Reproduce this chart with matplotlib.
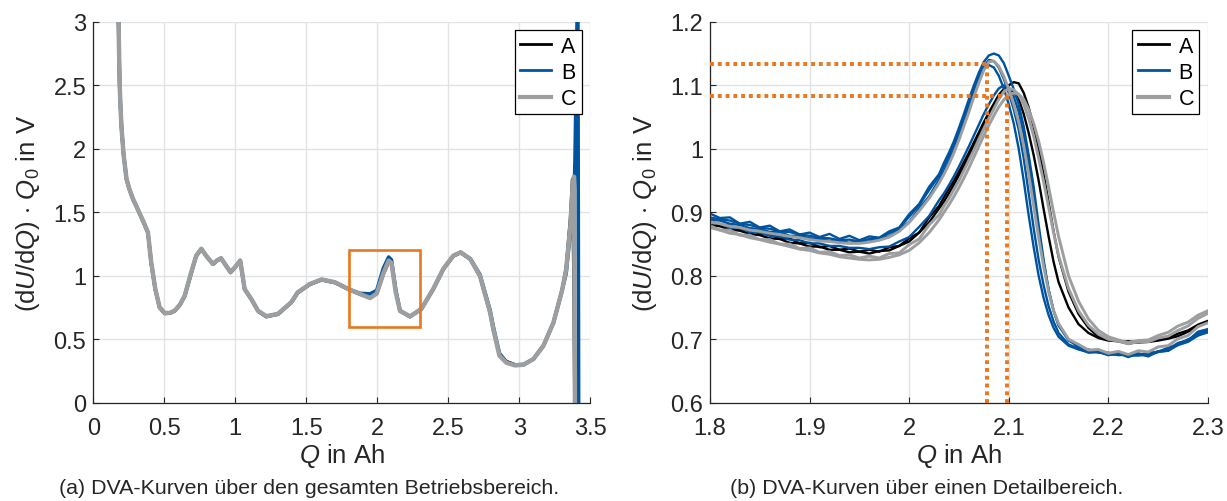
import matplotlib
matplotlib.use('Agg')
import matplotlib.pyplot as plt
from matplotlib.lines import Line2D
from matplotlib.patches import Rectangle

plt.rcParams['font.family'] = ['Liberation Sans', 'DejaVu Sans']
plt.rcParams['mathtext.fontset'] = 'custom'
plt.rcParams['mathtext.rm'] = 'Liberation Sans'
plt.rcParams['mathtext.it'] = 'Liberation Sans:italic'
plt.rcParams['mathtext.bf'] = 'Liberation Sans:bold'

# Farben der drei Zellen und der Markierung
COL_A = '#000000'
COL_B = '#00549F'
COL_C = '#9C9E9F'
ORANGE = '#E8771F'
TXT = '#262626'

LABELS = ['A', 'B', 'C']

# --- DVA über den gesamten Betriebsbereich ---
Q_FULL = [0.17, 0.178, 0.182, 0.186, 0.193, 0.20, 0.214, 0.234, 0.255, 0.28,
          0.315, 0.35, 0.385, 0.408, 0.437, 0.467, 0.503, 0.54, 0.573, 0.61,
          0.644, 0.69, 0.725, 0.761, 0.80, 0.843, 0.87, 0.90, 0.935, 0.967,
          1.00, 1.035, 1.066, 1.113, 1.16, 1.218, 1.30, 1.394, 1.44, 1.525,
          1.608, 1.702, 1.796, 1.878, 1.949, 1.996, 2.043, 2.08, 2.10, 2.13,
          2.16, 2.23, 2.31, 2.394, 2.465, 2.535, 2.587, 2.655, 2.723, 2.794,
          2.817, 2.86, 2.91, 2.97, 3.03, 3.10, 3.17, 3.24, 3.30, 3.33,
          3.36, 3.375, 3.385, 3.392, 3.412, 3.418]

DVA_A = [3.2, 3.0, 2.75, 2.5, 2.3, 2.15, 1.95, 1.76, 1.68, 1.60,
         1.52, 1.43, 1.34, 1.10, 0.89, 0.75, 0.703, 0.705, 0.722, 0.77,
         0.84, 1.02, 1.155, 1.21, 1.15, 1.09, 1.118, 1.137, 1.078, 1.025,
         1.068, 1.12, 0.893, 0.815, 0.722, 0.678, 0.697, 0.788, 0.866, 0.932,
         0.968, 0.946, 0.894, 0.855, 0.828, 0.862, 1.015, 1.11, 1.10, 0.88,
         0.727, 0.678, 0.737, 0.893, 1.05, 1.155, 1.182, 1.13, 0.995, 0.71,
         0.575, 0.38, 0.325, 0.30, 0.302, 0.345, 0.45, 0.63, 0.88, 1.06,
         1.45, 1.76, 0.9, -0.2, -0.2, -0.2]

DVA_B = [3.2, 3.0, 2.75, 2.5, 2.3, 2.15, 1.95, 1.764, 1.68, 1.605,
         1.52, 1.434, 1.342, 1.106, 0.896, 0.752, 0.707, 0.708, 0.725, 0.772,
         0.843, 1.028, 1.158, 1.213, 1.15, 1.094, 1.12, 1.139, 1.08, 1.03,
         1.07, 1.12, 0.896, 0.817, 0.725, 0.681, 0.70, 0.791, 0.87, 0.935,
         0.971, 0.949, 0.896, 0.862, 0.858, 0.885, 1.06, 1.148, 1.125, 0.89,
         0.722, 0.68, 0.739, 0.896, 1.055, 1.158, 1.185, 1.135, 1.01, 0.73,
         0.60, 0.39, 0.32, 0.295, 0.30, 0.345, 0.45, 0.63, 0.88, 1.02,
         1.35, 1.50, 1.62, 1.9, 3.4, -0.2]

DVA_C = [3.2, 3.0, 2.75, 2.5, 2.3, 2.15, 1.95, 1.764, 1.68, 1.605,
         1.52, 1.434, 1.342, 1.106, 0.896, 0.752, 0.707, 0.708, 0.725, 0.772,
         0.843, 1.028, 1.158, 1.213, 1.15, 1.094, 1.12, 1.139, 1.08, 1.03,
         1.07, 1.12, 0.896, 0.817, 0.725, 0.681, 0.70, 0.791, 0.87, 0.935,
         0.971, 0.949, 0.896, 0.857, 0.825, 0.860, 1.02, 1.12, 1.10, 0.87,
         0.725, 0.68, 0.739, 0.896, 1.055, 1.158, 1.185, 1.132, 1.00, 0.713,
         0.58, 0.371, 0.315, 0.295, 0.30, 0.345, 0.45, 0.63, 0.88, 1.05,
         1.40, 1.70, 1.78, -0.1, -0.2, -0.2]

# --- Detailbereich um den Peak bei 2.1 Ah ---
Q_DETAIL = [1.80, 1.81, 1.82, 1.83, 1.84, 1.85, 1.86, 1.87, 1.88, 1.89,
            1.90, 1.91, 1.92, 1.93, 1.94, 1.95, 1.96, 1.97, 1.98, 1.99,
            2.00, 2.01, 2.02, 2.03,
            2.035, 2.04, 2.045, 2.05, 2.055, 2.06, 2.065, 2.07, 2.075, 2.08,
            2.085, 2.09, 2.095, 2.10, 2.105, 2.11, 2.115, 2.12, 2.125, 2.13,
            2.135, 2.14, 2.145, 2.15,
            2.16, 2.17, 2.18, 2.19, 2.20, 2.21, 2.22, 2.23, 2.24, 2.25,
            2.26, 2.27, 2.28, 2.29, 2.30]

DETAIL_A = [
    [.886, .880, .880, .872, .873, .866, .866, .858, .859, .851, .852, .845,
     .847, .841, .843, .838, .841, .838, .845, .847, .859, .868, .892, .910,
     .924, .937, .950, .964, .979, .994, 1.010, 1.026, 1.042, 1.057, 1.071, 1.085,
     1.094, 1.100, 1.105, 1.103, 1.088, 1.065, 1.035, 1.000, 0.960, 0.915, 0.870, 0.830,
     .775, .740, .718, .704, .701, .697, .697, .695, .696, .698, .701, .705, .712, .720, .728],
    [.880, .878, .873, .871, .866, .864, .859, .858, .852, .851, .846, .846,
     .841, .841, .837, .838, .835, .839, .840, .847, .854, .868, .884, .906,
     .917, .930, .944, .958, .973, .989, 1.005, 1.021, 1.037, 1.052, 1.066, 1.080,
     1.092, 1.095, 1.090, 1.078, 1.055, 1.025, 0.990, 0.950, 0.905, 0.862, 0.822, 0.790,
     .750, .724, .710, .702, .698, .697, .693, .696, .696, .700, .702, .709, .714, .723, .729],
]

DETAIL_B = [
    [.898, .891, .892, .882, .885, .876, .879, .870, .873, .865, .868, .861,
     .866, .858, .863, .856, .862, .860, .870, .876, .897, .913, .940, .960,
     .978, .994, 1.012, 1.033, 1.055, 1.078, 1.100, 1.120, 1.137, 1.147, 1.150, 1.147,
     1.135, 1.115, 1.094, 1.070, 1.035, 0.990, 0.940, 0.880, 0.825, 0.778, 0.745, 0.722,
     .698, .690, .681, .682, .676, .678, .672, .678, .673, .681, .682, .694, .698, .712, .716],
    [.892, .889, .887, .882, .880, .876, .874, .870, .869, .865, .863, .860,
     .859, .856, .857, .854, .858, .859, .867, .875, .893, .911, .935, .957,
     .972, .988, 1.006, 1.027, 1.048, 1.070, 1.093, 1.113, 1.130, 1.140, 1.138, 1.128,
     1.110, 1.088, 1.062, 1.030, 0.985, 0.930, 0.875, 0.825, 0.785, 0.752, 0.728, 0.710,
     .692, .685, .679, .680, .675, .678, .674, .675, .676, .681, .685, .694, .699, .709, .714],
    [.888, .887, .882, .880, .875, .874, .869, .869, .863, .863, .859, .858,
     .855, .855, .852, .854, .854, .859, .862, .873, .885, .906, .925, .951,
     .965, .981, .999, 1.020, 1.042, 1.064, 1.088, 1.108, 1.126, 1.132, 1.128, 1.115,
     1.095, 1.070, 1.040, 1.000, 0.950, 0.895, 0.845, 0.800, 0.765, 0.738, 0.718, 0.704,
     .690, .684, .680, .680, .676, .676, .675, .675, .675, .680, .682, .691, .696, .706, .711],
    [.885, .882, .876, .875, .869, .868, .863, .862, .857, .856, .851, .851,
     .847, .847, .844, .844, .842, .845, .846, .854, .861, .877, .894, .919,
     .930, .943, .957, .972, .988, 1.004, 1.021, 1.038, 1.055, 1.070, 1.084, 1.095,
     1.100, 1.096, 1.082, 1.058, 1.022, 0.975, 0.922, 0.870, 0.820, 0.778, 0.745, 0.722,
     .700, .687, .684, .679, .679, .675, .676, .675, .679, .680, .687, .691, .700, .706, .716],
]

DETAIL_C = [
    [.885, .882, .878, .876, .872, .870, .867, .865, .862, .860, .857, .855,
     .854, .852, .851, .851, .853, .856, .861, .870, .884, .902, .922, .946,
     .960, .976, .994, 1.014, 1.036, 1.058, 1.082, 1.104, 1.124, 1.137, 1.138, 1.130,
     1.114, 1.094, 1.070, 1.042, 1.005, 0.960, 0.910, 0.860, 0.815, 0.775, 0.745, 0.725,
     .700, .692, .683, .684, .678, .681, .676, .682, .680, .688, .690, .701, .706, .720, .726],
    [.879, .872, .872, .864, .864, .857, .857, .850, .850, .843, .844, .837,
     .838, .832, .833, .828, .831, .828, .835, .836, .849, .858, .880, .896,
     .910, .922, .936, .950, .966, .982, .998, 1.015, 1.032, 1.048, 1.063, 1.078,
     1.090, 1.095, 1.093, 1.085, 1.070, 1.048, 1.020, 0.985, 0.948, 0.908, 0.868, 0.832,
     .780, .745, .722, .708, .700, .697, .693, .696, .696, .702, .705, .714, .721, .733, .741],
    [.876, .872, .867, .865, .860, .857, .853, .850, .846, .842, .840, .836,
     .834, .830, .828, .826, .825, .826, .829, .833, .840, .852, .868, .888,
     .900, .912, .925, .939, .954, .970, .987, 1.004, 1.021, 1.037, 1.052, 1.066,
     1.077, 1.085, 1.088, 1.086, 1.078, 1.062, 1.040, 1.012, 0.978, 0.940, 0.900, 0.862,
     .800, .760, .732, .714, .704, .699, .695, .698, .699, .706, .711, .721, .727, .738, .745],
]

PEAKS = [(2.078, 1.134), (2.098, 1.083)]

XTICKS_FULL = [0, 0.5, 1, 1.5, 2, 2.5, 3, 3.5]
XTICKLABELS_FULL = ['0', '0.5', '1', '1.5', '2', '2.5', '3', '3.5']
YTICKS_FULL = [0, 0.5, 1, 1.5, 2, 2.5, 3]
YTICKLABELS_FULL = ['0', '0.5', '1', '1.5', '2', '2.5', '3']
XTICKS_DETAIL = [1.8, 1.9, 2.0, 2.1, 2.2, 2.3]
XTICKLABELS_DETAIL = ['1.8', '1.9', '2', '2.1', '2.2', '2.3']
YTICKS_DETAIL = [0.6, 0.7, 0.8, 0.9, 1.0, 1.1, 1.2]
YTICKLABELS_DETAIL = ['0.6', '0.7', '0.8', '0.9', '1', '1.1', '1.2']

YLABEL = r'(d$U$/d$Q$) $\cdot$ $Q_{\mathit{0}}$ in V'
XLABEL = r'$Q$ in Ah'


def style_axes(ax, xticks, xlabels, yticks, ylabels):
    ax.set_xticks(xticks)
    ax.set_xticklabels(xlabels)
    ax.set_yticks(yticks)
    ax.set_yticklabels(ylabels)
    ax.grid(True, color='#E3E3E3', linewidth=1.0)
    ax.set_axisbelow(True)
    for side in ['top', 'right']:
        ax.spines[side].set_visible(False)
    for side in ['left', 'bottom']:
        ax.spines[side].set_color(TXT)
        ax.spines[side].set_linewidth(0.9)
    ax.tick_params(direction='in', length=4, width=0.8, color=TXT,
                   labelcolor=TXT, labelsize=17, pad=5)
    ax.tick_params(axis='x', pad=10)
    ax.set_xlabel(XLABEL, fontsize=18.5, color=TXT, labelpad=2)
    ax.set_ylabel(YLABEL, fontsize=18.5, color=TXT, labelpad=8)
    handles = [Line2D([], [], color=COL_A, lw=2.0),
               Line2D([], [], color=COL_B, lw=2.0),
               Line2D([], [], color=COL_C, lw=3.0)]
    leg = ax.legend(handles, LABELS, loc='upper right', fontsize=15.5,
                    fancybox=False, framealpha=1, edgecolor='black',
                    borderaxespad=0.4, handlelength=1.45, handletextpad=0.45,
                    labelspacing=0.24, borderpad=0.25)
    leg.get_frame().set_linewidth(0.9)


fig = plt.figure(figsize=(12.27, 5.02), dpi=100)
ax1 = fig.add_axes([0.0760, 0.1956, 0.4051, 0.759])
ax2 = fig.add_axes([0.5786, 0.1956, 0.4059, 0.759])

# Übersicht
ax1.plot(Q_FULL, DVA_A, color=COL_A, lw=2.4)
ax1.plot(Q_FULL, DVA_B, color=COL_B, lw=2.6)
ax1.plot(Q_FULL, DVA_C, color=COL_C, lw=3.2)
ax1.add_patch(Rectangle((XTICKS_DETAIL[0], YTICKS_DETAIL[0]),
                        XTICKS_DETAIL[-1] - XTICKS_DETAIL[0],
                        YTICKS_DETAIL[-1] - YTICKS_DETAIL[0],
                        fill=False, edgecolor=ORANGE, lw=1.9, zorder=5))
ax1.set_xlim(0, 3.5)
ax1.set_ylim(0, 3)
style_axes(ax1, XTICKS_FULL, XTICKLABELS_FULL, YTICKS_FULL, YTICKLABELS_FULL)

# Detailansicht
for y in DETAIL_A:
    ax2.plot(Q_DETAIL, y, color=COL_A, lw=1.7)
for y in DETAIL_B:
    ax2.plot(Q_DETAIL, y, color=COL_B, lw=1.7)
for y in DETAIL_C:
    ax2.plot(Q_DETAIL, y, color=COL_C, lw=2.1)
for q, u in PEAKS:
    ax2.plot([1.8, q], [u, u], color=ORANGE, lw=2.8, ls=(0, (1, 1)),
             dash_capstyle='butt', zorder=6)
    ax2.plot([q, q], [0.6, u], color=ORANGE, lw=2.8, ls=(0, (1, 1)),
             dash_capstyle='butt', zorder=6)
ax2.set_xlim(1.8, 2.3)
ax2.set_ylim(0.6, 1.2)
style_axes(ax2, XTICKS_DETAIL, XTICKLABELS_DETAIL, YTICKS_DETAIL, YTICKLABELS_DETAIL)

fig.text(0.252, 0.026, '(a) DVA-Kurven über den gesamten Betriebsbereich.',
         ha='center', va='center', fontsize=15.4, color=TXT)
fig.text(0.755, 0.026, '(b) DVA-Kurven über einen Detailbereich.',
         ha='center', va='center', fontsize=15.4, color=TXT)

fig.savefig('out.png', dpi=100)
